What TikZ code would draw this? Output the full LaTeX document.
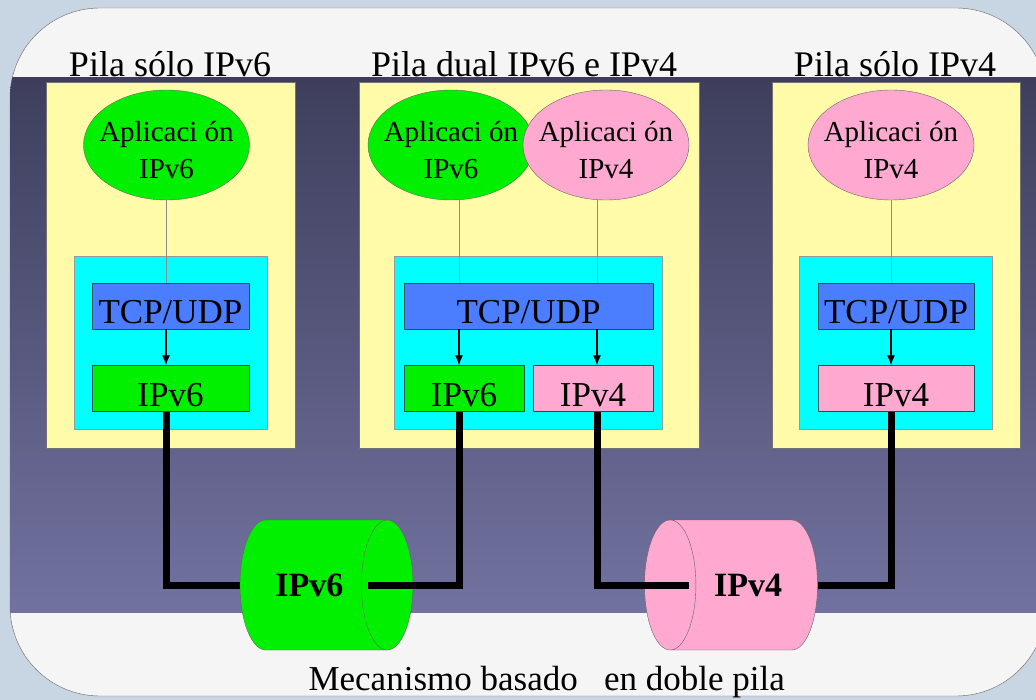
\documentclass[tikz,border=0pt]{standalone}
\usepackage{fontspec}
\setmainfont{Liberation Serif}
\usetikzlibrary{arrows.meta,positioning,shapes.geometric}

\definecolor{panelyellow}{HTML}{FFFBA8}
\definecolor{stackcyan}{HTML}{00FFFF}
\definecolor{tcpblue}{HTML}{4A7DFF}
\definecolor{vsixgreen}{HTML}{00F000}
\definecolor{vfourpink}{HTML}{FFA8D0}
\definecolor{bandtop}{HTML}{3E3E5C}
\definecolor{bandbottom}{HTML}{7272A0}
\definecolor{skyback}{HTML}{C8D5E2}

% two-line label of an application bubble
\newcommand{\applabel}[1]{\makebox[0pt]{\raisebox{-14pt}[0pt][0pt]{\begin{tabular}{@{}c@{}}Aplicaci ón\\#1\end{tabular}}}}

\begin{document}
\begin{tikzpicture}[x=1pt,y=-1pt,
    stack/.style={draw=black!55,fill=panelyellow,minimum height=366pt,inner sep=0pt},
    stackbox/.style={draw=black!40,fill=stackcyan,minimum height=173pt,inner sep=0pt},
    protobox/.style={draw=teal!70!black,minimum height=46pt,inner sep=0pt,text height=36pt,text depth=0pt,font=\fontsize{35}{40}\selectfont},
    app/.style={ellipse,draw=black!60,minimum width=166pt,minimum height=110pt,inner sep=0pt,font=\fontsize{29}{37}\selectfont},
    tunnel/.style={cylinder,draw=black!60,aspect=1.75,minimum height=173pt,minimum width=130pt,anchor=shape center,font=\bfseries\fontsize{34}{40}\selectfont},
    heading/.style={anchor=base,font=\fontsize{36}{40}\selectfont},
    wire/.style={draw=black!45,line width=0.6pt},
    pass/.style={-{Latex[length=10pt,width=8pt]},line width=1.2pt},
    link/.style={line width=7pt}]
    \useasboundingbox (0,0) rectangle (1036,700);

    % frame of the slide
    \fill[skyback] (0,0) rectangle (1036,700);
    \path[draw=black!60,fill=white!96!black,rounded corners=90pt] (10,8) rectangle (1046,696);
    \begin{scope}
      \clip[rounded corners=90pt] (10,8) rectangle (1046,696);
      \shade[top color=bandtop,bottom color=bandbottom] (0,78) rectangle (1046,612);
    \end{scope}

    \node[heading] (head6) at (170,77) {Pila sólo IPv6};
    \node[heading] (headdual) at (524,77) {Pila dual IPv6 e IPv4};
    \node[heading] (head4) at (895,77) {Pila sólo IPv4};

    \node[stack,minimum width=249pt] (pila6) at (170.5,265) {};
    \node[stack,minimum width=340pt] (piladual) at (529,265) {};
    \node[stack,minimum width=248pt] (pila4) at (896,265) {};

    \node[stackbox,minimum width=193pt] (core6) at (170.5,342.5) {};
    \node[stackbox,minimum width=268pt] (coredual) at (528,342.5) {};
    \node[stackbox,minimum width=193pt] (core4) at (895.5,342.5) {};

    \coordinate (ax1) at (166,0);
    \coordinate (ax2) at (459,0);
    \coordinate (ax3) at (597,0);
    \coordinate (ax4) at (891,0);

    \node[app,fill=vsixgreen] (app6) at (166.5,145) {\applabel{IPv6}};
    \node[app,fill=vsixgreen] (appdual6) at (451,145) {\applabel{IPv6}};
    \node[app,fill=vfourpink] (appdual4) at (606,145) {\applabel{IPv4}};
    \node[app,fill=vfourpink] (app4) at (891,145) {\applabel{IPv4}};

    \node[protobox,fill=tcpblue,minimum width=157pt] (tcp6) at (170.5,306) {TCP/UDP};
    \node[protobox,fill=tcpblue,minimum width=249pt] (tcpdual) at (528.5,306) {TCP/UDP};
    \node[protobox,fill=tcpblue,minimum width=156pt] (tcp4) at (896,306) {TCP/UDP};

    \node[protobox,fill=vsixgreen,minimum width=157pt] (ip6) at (170.5,388.5) {IPv6};
    \node[protobox,fill=vsixgreen,minimum width=120pt] (dualip6) at (464,388.5) {IPv6};
    \node[protobox,fill=vfourpink,minimum width=120pt] (dualip4) at (593,388.5) {IPv4};
    \node[protobox,fill=vfourpink,minimum width=156pt] (ip4) at (896,388.5) {IPv4};

    \draw[wire] (ax1 |- app6.south) -- (ax1 |- tcp6.north);
    \draw[wire] (ax2 |- appdual6.south) -- (ax2 |- tcpdual.north);
    \draw[wire] (ax3 |- appdual4.south) -- (ax3 |- tcpdual.north);
    \draw[wire] (ax4 |- app4.south) -- (ax4 |- tcp4.north);

    \draw[pass] (ax1 |- tcp6.south) -- (ax1 |- ip6.north);
    \draw[pass] (ax2 |- tcpdual.south) -- (ax2 |- dualip6.north);
    \draw[pass] (ax3 |- tcpdual.south) -- (ax3 |- dualip4.north);
    \draw[pass] (ax4 |- tcp4.south) -- (ax4 |- ip4.north);

    % tunnels
    \node[tunnel,fill=vsixgreen] (tun6) at (326.5,585) {IPv6};
    \node[tunnel,fill=vfourpink,shape border rotate=180] (tun4) at (731,585) {IPv4};
    \coordinate (in6) at (368,585);
    \coordinate (in4) at (689,585);

    \draw[link] (ax1 |- ip6.south) |- (tun6.bottom);
    \draw[link] (ax2 |- dualip6.south) |- (in6);
    \draw[link] (ax3 |- dualip4.south) |- (in4);
    \draw[link] (ax4 |- ip4.south) |- (tun4.bottom);

    \node[anchor=base west,font=\fontsize{35}{40}\selectfont] (caption) at (305,690) {Mecanismo basado\ \ \ en doble pila};
\end{tikzpicture}
\end{document}
